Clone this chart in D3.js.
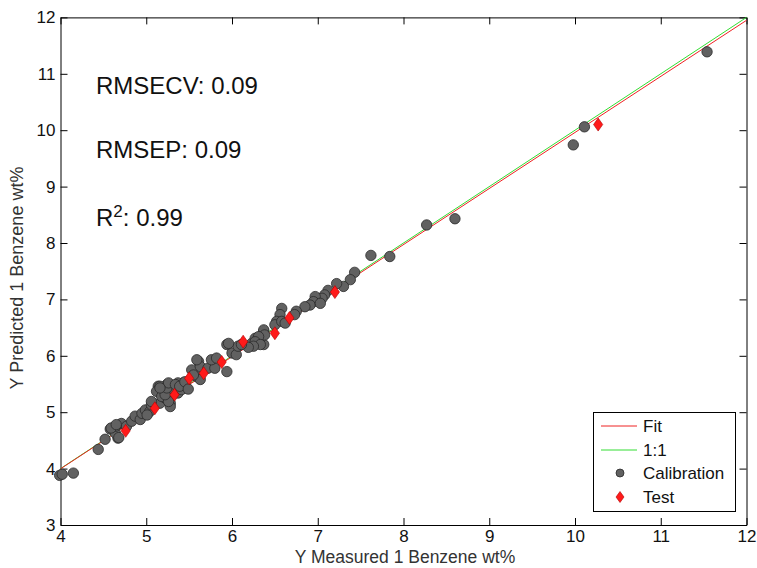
<!DOCTYPE html>
<html>
<head>
<meta charset="utf-8">
<script src="https://cdn.jsdelivr.net/npm/d3@7"></script>
<style>
  body { margin: 0; background: #fff; }
  svg { display: block; font-family: "Liberation Sans", Arial, sans-serif; }
</style>
</head>
<body>
<svg id="chart" width="757" height="568"></svg>
<script>
// ---- data ----
const calX = [3.99,4.02,4.15,4.44,4.52,4.67,4.58,4.64,4.64,4.71,4.77,4.83,4.87,4.93,4.95,4.99,5.04,5.01,5.06,5.16,5.16,5.22,5.28,5.14,5.24,5.32,5.43,5.47,5.37,
  5.06,5.28,5.12,5.18,5.26,5.22,5.37,5.41,5.16,5.24,5.26,5.34,5.39,5.45,5.49,5.53,5.59,5.63,5.55,5.61,5.63,5.72,5.80,5.76,5.82,5.94,6.00,6.05,5.94,6.07,6.23,6.27,6.37,6.33,6.37,
  7.43,7.38,7.30,7.22,7.12,7.08,7.05,6.97,6.95,6.91,6.85,7.03,6.75,6.73,6.58,6.56,6.52,6.50,6.58,6.62,6.37,6.38,6.31,6.27,6.33,6.25,6.19,6.11,
  5.96,5.59,5.16,4.59,4.65,4.68,
  7.62,7.84,8.27,8.60,9.98,10.11,11.54];
const calY = [3.88,3.90,3.92,4.34,4.52,4.54,4.70,4.63,4.75,4.80,4.75,4.84,4.93,4.87,4.98,5.04,5.01,4.95,5.13,5.16,5.34,5.25,5.16,5.46,5.49,5.40,5.52,5.43,5.52,
  5.19,5.10,5.37,5.28,5.19,5.31,5.34,5.40,5.46,5.43,5.52,5.49,5.46,5.54,5.41,5.75,5.63,5.58,5.66,5.90,5.81,5.78,5.78,5.93,5.96,5.72,6.05,6.02,6.20,6.17,6.22,6.31,6.20,6.31,6.43,
  7.48,7.35,7.23,7.28,7.16,7.08,7.02,7.05,6.96,6.90,6.87,6.93,6.79,6.73,6.84,6.73,6.61,6.55,6.61,6.58,6.46,6.37,6.34,6.25,6.20,6.17,6.15,6.20,
  6.22,5.93,5.43,4.72,4.78,4.55,
  7.78,7.76,8.32,8.43,9.74,10.06,11.39];
const testX = [4.76,5.10,5.33,5.50,5.67,5.88,6.13,6.50,6.67,7.20,10.27];
const testY = [4.67,5.07,5.31,5.60,5.69,5.89,6.25,6.40,6.67,7.13,10.10];
const fitSlope = 0.994, fitIntercept = 0.02;
const xTicks = [4,5,6,7,8,9,10,11,12];
const yTicks = [3,4,5,6,7,8,9,10,11,12];
const statsLines = [["RMSECV: 0.09"], ["RMSEP: 0.09"], ["R", "2", ": 0.99"]];
const legendItems = ["Fit", "1:1", "Calibration", "Test"];

// ---- chart ----
const svg = d3.select("#chart");
const x = d3.scaleLinear().domain([4, 12]).range([60.5, 746.5]);
const y = d3.scaleLinear().domain([3, 12]).range([525, 17.4]);

const tickFont = 17;

svg.append("rect").attr("x", x(4)).attr("y", y(12))
  .attr("width", x(12) - x(4)).attr("height", y(3) - y(12))
  .attr("fill", "#fff").attr("stroke", "none");

function styleAxis(g) {
  g.selectAll("path.domain").attr("stroke", "#000").attr("stroke-width", 1);
  g.selectAll(".tick line").attr("stroke", "#000").attr("stroke-width", 1);
  g.selectAll(".tick text").attr("fill", "#111").style("font-size", tickFont + "px");
}

svg.append("g").attr("transform", `translate(0,${y(3)})`)
  .call(d3.axisBottom(x).tickValues(xTicks).tickSizeInner(-7).tickSizeOuter(0).tickPadding(5).tickFormat(d3.format("d")))
  .call(styleAxis);
svg.append("g").attr("transform", `translate(0,${y(12)})`)
  .call(d3.axisTop(x).tickValues(xTicks).tickSizeInner(-7).tickSizeOuter(0).tickFormat(""))
  .call(styleAxis);
svg.append("g").attr("transform", `translate(${x(4)},0)`)
  .call(d3.axisLeft(y).tickValues(yTicks).tickSizeInner(-7).tickSizeOuter(0).tickPadding(5).tickFormat(d3.format("d")))
  .call(styleAxis);
svg.append("g").attr("transform", `translate(${x(12)},0)`)
  .call(d3.axisRight(y).tickValues(yTicks).tickSizeInner(-7).tickSizeOuter(0).tickFormat(""))
  .call(styleAxis);

// lines
const lineGen = d3.line().x(d => x(d[0])).y(d => y(d[1]));
svg.append("path").datum([[4, 4], [12, 12]]).attr("d", lineGen)
  .attr("fill", "none").attr("stroke", "#33dd33").attr("stroke-width", 1);
svg.append("path").datum([[4, fitSlope * 4 + fitIntercept], [12, fitSlope * 12 + fitIntercept]]).attr("d", lineGen)
  .attr("fill", "none").attr("stroke", "#ee2222").attr("stroke-width", 1);

// calibration points
const cal = calX.map((v, i) => [v, calY[i]]);
svg.append("g").selectAll("circle").data(cal).join("circle")
  .attr("cx", d => x(d[0])).attr("cy", d => y(d[1])).attr("r", 5.2)
  .attr("fill", "#616161").attr("stroke", "#2a2a2a").attr("stroke-width", 0.8);

// test points (diamonds)
const test = testX.map((v, i) => [v, testY[i]]);
const diamond = (cx, cy, w, h) => `M${cx},${cy - h}L${cx + w},${cy}L${cx},${cy + h}L${cx - w},${cy}Z`;
svg.append("g").selectAll("path").data(test).join("path")
  .attr("d", d => diamond(x(d[0]), y(d[1]), 4.6, 6.5))
  .attr("fill", "#ff1a1a").attr("stroke", "#b00000").attr("stroke-width", 0.6);

// stats text
const statsG = svg.append("g").style("font-size", "24px").attr("fill", "#111");
const baselines = [94, 158, 226];
statsLines.forEach((s, i) => {
  const t = statsG.append("text").attr("x", 96).attr("y", baselines[i]);
  if (s.length === 3) {
    t.append("tspan").text(s[0]);
    t.append("tspan").text(s[1]).style("font-size", "17px").attr("dy", -9);
    t.append("tspan").text(s[2]).attr("dy", 9);
  } else {
    t.text(s[0]);
  }
});

// axis labels
svg.append("text").attr("x", 405).attr("y", 563).attr("text-anchor", "middle")
  .style("font-size", "17.5px").attr("fill", "#333").text("Y Measured 1 Benzene wt%");
svg.append("text").attr("transform", "translate(23,278) rotate(-90)").attr("text-anchor", "middle")
  .style("font-size", "18px").attr("fill", "#333").text("Y Predicted 1 Benzene wt%");

// legend
const lg = svg.append("g");
lg.append("rect").attr("x", 593.5).attr("y", 412.5).attr("width", 142).attr("height", 99)
  .attr("fill", "#fff").attr("stroke", "#000").attr("stroke-width", 1);
const rowY = [426, 450, 473, 497];
const lineColors = ["#ee2222", "#33dd33"];
legendItems.forEach((name, i) => {
  const cy = rowY[i];
  if (i < 2) {
    lg.append("line").attr("x1", 601).attr("x2", 637).attr("y1", cy).attr("y2", cy)
      .attr("stroke", lineColors[i]).attr("stroke-width", 1);
  } else if (i === 2) {
    lg.append("circle").attr("cx", 620).attr("cy", cy).attr("r", 4)
      .attr("fill", "#616161").attr("stroke", "#2a2a2a").attr("stroke-width", 0.8);
  } else {
    lg.append("path").attr("d", diamond(620, cy, 4, 5.5))
      .attr("fill", "#ff1a1a").attr("stroke", "#b00000").attr("stroke-width", 0.6);
  }
  lg.append("text").attr("x", 643).attr("y", cy + 6).style("font-size", "17px")
    .attr("fill", "#111").text(name);
});
</script>
</body>
</html>
